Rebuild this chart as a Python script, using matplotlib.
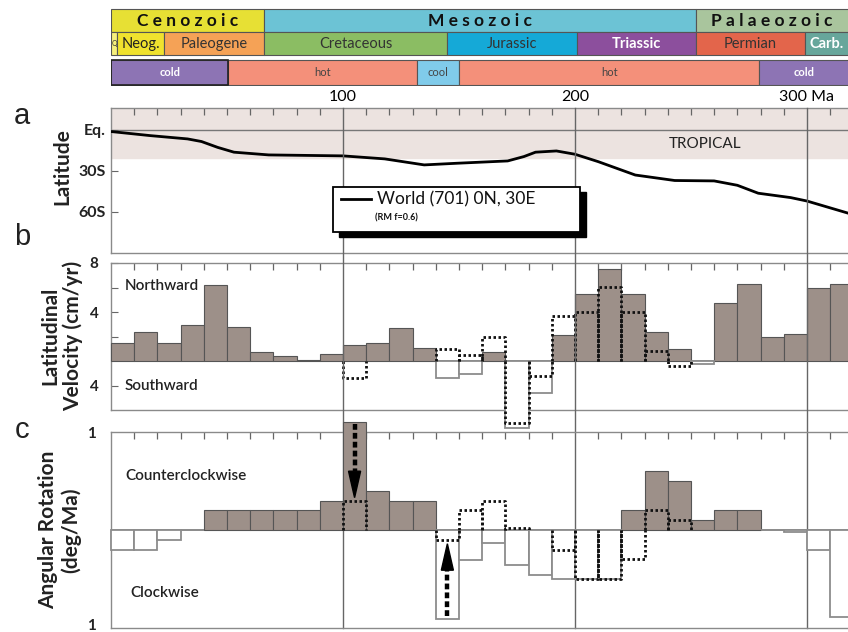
import numpy as np
import matplotlib
matplotlib.use("Agg")
import matplotlib.pyplot as plt
from matplotlib.patches import Rectangle, Polygon
from matplotlib.lines import Line2D
from matplotlib.transforms import blended_transform_factory

plt.rcParams['font.family'] = ['Lato', 'DejaVu Sans']

# ---------------- geological time scale (Ma) ----------------
era_names = ['C e n o z o i c', 'M e s o z o i c', 'P a l a e o z o i c']
era_start = [0, 66, 252]
era_end = [66, 252, 359]
era_colors = ['#e7e034', '#6cc3d5', '#a9c59d']

period_names = ['Q', 'Neog.', 'Paleogene', 'Cretaceous', 'Jurassic', 'Triassic', 'Permian', 'Carb.']
period_start = [0, 2.6, 23, 66, 145, 201, 252, 299]
period_end = [2.6, 23, 66, 145, 201, 252, 299, 359]
period_colors = ['#f6f07c', '#f0e22e', '#f5a256', '#8bbd63', '#15a9d7', '#8c4f9d', '#e3654b', '#67a69b']
period_text = ['#333333', '#222222', '#333333', '#333333', '#333333', 'white', '#333333', 'white']
period_bold = [False, False, False, False, False, True, False, True]

climate_names = ['cold', 'hot', 'cool', 'hot', 'cold']
climate_start = [0, 50.6, 132, 150, 279.5]
climate_end = [50.6, 132, 150, 279.5, 359]
climate_colors = ['#8d74b4', '#f4907a', '#80cbea', '#f4907a', '#8d74b4']
climate_text = ['white', '#444444', '#444444', '#444444', 'white']

# ---------------- palaeolatitude path ----------------
lat_age = [0, 17, 33, 39, 46, 53, 68, 100, 118, 135, 149, 171, 178, 183, 192,
           200, 210, 226, 243, 260, 270, 279, 293, 300, 318]
lat_deg = [-1.2, -4.2, -6.6, -8.5, -12.8, -16.3, -18.3, -19.0, -21.2, -25.6,
           -24.4, -22.7, -19.5, -16.3, -15.4, -17.8, -23.2, -33.0, -37.0,
           -37.3, -40.5, -46.3, -49.5, -52.0, -61.0]

# ---------------- 10 Myr bins ----------------
bin_start = np.arange(0, 320, 10)

# latitudinal velocity (cm/yr), positive = northward
vel_main = np.array([1.5, 2.4, 1.5, 2.9, 6.2, 2.8, 0.76, 0.43, 0.1, 0.57,
                     1.29, 1.5, 2.68, 1.07, -1.42, -1.04, 0.77, -5.5, -2.6, 2.13,
                     5.46, 7.49, 5.46, 2.38, 0.96, -0.27, 4.7, 6.28, 1.97, 2.19,
                     6.0, 6.28])
vel_alt_start = [100, 140, 150, 160, 170, 180, 190, 200, 210, 220, 230, 240]
vel_alt = [-1.42, 1.0, 0.46, 1.97, -5.05, -1.26, 3.69, 4.0, 6.07, 3.96, 0.82, -0.44]

# angular rotation (deg/Ma), positive = counterclockwise
rot_main = np.array([-0.2, -0.2, -0.1, 0.0, 0.2, 0.2, 0.2, 0.2, 0.2, 0.3,
                     1.1, 0.4, 0.3, 0.3, -0.91, -0.31, -0.13, -0.36, -0.46, -0.5,
                     -0.5, -0.5, 0.2, 0.6, 0.5, 0.1, 0.2, 0.2, 0.0, -0.02,
                     -0.2, -0.89])
rot_alt_start = [100, 140, 150, 160, 170, 190, 200, 210, 220, 230, 240]
rot_alt = [0.3, -0.1, 0.2, 0.3, 0.02, -0.2, -0.5, -0.5, -0.3, 0.2, 0.1]

# ---------------- figure layout ----------------
W_PX, H_PX = 848, 632
fig = plt.figure(figsize=(W_PX / 100, H_PX / 100), dpi=100)
LEFT = 111 / W_PX
XMAX = 317.7
FRAME = '#8a8a8a'
BAR_FILL = '#9d9089'


def rect_from_px(top, bottom):
    return [LEFT, 1 - bottom / H_PX, 1 - LEFT, (bottom - top) / H_PX]


ax_t = fig.add_axes(rect_from_px(8, 86))
ax_a = fig.add_axes(rect_from_px(108, 253))
ax_b = fig.add_axes(rect_from_px(263, 410))
ax_c = fig.add_axes(rect_from_px(432, 628))

# ---------------- time scale strip ----------------
ax_t.set_xlim(0, XMAX)
ax_t.set_ylim(86, 8)
ax_t.axis('off')


def strip_row(starts, ends, names, colors, y0, y1, tcolors, size, bold, edge='#555555'):
    for i, (s, e, n, c) in enumerate(zip(starts, ends, names, colors)):
        ax_t.add_patch(Rectangle((s, y0), e - s, y1 - y0, facecolor=c,
                                 edgecolor=edge, lw=0.8, clip_on=True))
        xc = (s + min(e, XMAX)) / 2
        w = 'bold' if bold[i] else 'normal'
        ax_t.text(xc, (y0 + y1) / 2 + 0.5, n, ha='center', va='center',
                  color=tcolors[i], fontsize=size[i], fontweight=w, clip_on=True)


strip_row(era_start, era_end, era_names, era_colors, 8.5, 31.5,
          ['#111111'] * 3, [12.5] * 3, [True] * 3)
strip_row(period_start, period_end, period_names, period_colors, 31.5, 55,
          period_text, [5] + [10.5] * 7, period_bold)
strip_row(climate_start, climate_end, climate_names, climate_colors, 59.5, 85,
          climate_text, [8] * 5, [True, False, False, False, True])
ax_t.add_patch(Rectangle((climate_start[0], 59.5), climate_end[0] - climate_start[0],
                         25.5, facecolor='none', edgecolor='#222222', lw=1.2))

# ---------------- common axis styling ----------------
for ax in (ax_a, ax_b, ax_c):
    ax.set_xlim(0, XMAX)
    for side in ('left', 'top', 'bottom'):
        ax.spines[side].set_color(FRAME)
        ax.spines[side].set_linewidth(1.0)
    ax.spines['right'].set_visible(False)
    ax.xaxis.tick_top()
    ax.set_xticks([100, 200, 300])
    ax.set_xticks(np.arange(10, 320, 10), minor=True)
    ax.tick_params(axis='x', which='minor', direction='in', length=5,
                   color='#666666', width=0.9)
    ax.tick_params(axis='x', which='major', length=0, labeltop=False)
    ax.tick_params(axis='y', direction='in', length=5, color='#666666',
                   labelsize=11, labelcolor='#222222')

# ---------------- panel a: palaeolatitude ----------------
ax_a.set_ylim(-90, 16)
ax_a.axhspan(-20.5, 16, color='#ece3e0', zorder=0)
ax_a.axhline(0, color='#777777', lw=1.0, zorder=1)
ax_a.plot(lat_age, lat_deg, color='black', lw=2.0, zorder=5,
          solid_joinstyle='round')
ax_a.set_yticks([0, -30, -60])
ax_a.set_yticklabels(['Eq.', '30S', '60S'], fontweight='bold', fontsize=11.5)
ax_a.tick_params(axis='y', pad=4)
ax_a.tick_params(axis='x', which='major', labeltop=True, labelsize=11.5, pad=3)
ax_a.set_xticklabels(['100', '200', '300 Ma'])
ax_a.text(256, -10, 'TROPICAL', ha='center', va='center', fontsize=11,
          color='#222222')

# legend box with solid shadow
bx0, by0, bw, bh = 333 / W_PX, 1 - 232 / H_PX, 247 / W_PX, 45 / H_PX
fig.add_artist(Rectangle((bx0 + 6 / W_PX, by0 - 5 / H_PX), bw, bh,
                         transform=fig.transFigure, facecolor='black',
                         edgecolor='black', zorder=8))
fig.add_artist(Rectangle((bx0, by0), bw, bh, transform=fig.transFigure,
                         facecolor='white', edgecolor='black', lw=1.3, zorder=9))
fig.add_artist(Line2D([341 / W_PX, 371 / W_PX], [1 - 199 / H_PX] * 2,
                      transform=fig.transFigure, color='black', lw=2, zorder=10))
fig.text(377 / W_PX, 1 - 199 / H_PX, 'World (701) 0N, 30E', fontsize=12.5,
         va='center', ha='left', zorder=10, color='#111111')
fig.text(375 / W_PX, 1 - 218 / H_PX, '(RM f=0.6)', fontsize=6.5,
         fontweight='bold', va='center', ha='left', zorder=10, color='#111111')


# ---------------- bar helper ----------------
def draw_bars(ax, starts, main, alt_starts, alt):
    main = np.asarray(main)
    pos = main > 0
    neg = ~pos
    ax.bar(starts[pos], main[pos], width=10, align='edge', color=BAR_FILL,
           edgecolor='#555555', lw=0.8, zorder=3, clip_on=False)
    ax.bar(starts[neg], main[neg], width=10, align='edge', color='white',
           edgecolor='#8c8c8c', lw=1.3, zorder=3, clip_on=False)
    # alternative model: open dotted outlines rising from the zero line
    for s, v in zip(alt_starts, alt):
        ax.plot([s, s, s + 10, s + 10], [0, v, v, 0], color='#111111',
                lw=2.0, ls=(0, (0.9, 0.9)), zorder=4, clip_on=False)


# ---------------- panel b: latitudinal velocity ----------------
ax_b.set_ylim(-4, 8)
ax_b.axhline(0, color='#8c8c8c', lw=1.2, zorder=2)
draw_bars(ax_b, bin_start, vel_main, vel_alt_start, vel_alt)
ax_b.set_yticks([8, 6, 4, 2, -2])
ax_b.set_yticklabels(['8', '', '4', '', '4'], fontweight='bold', fontsize=11)
ax_b.tick_params(axis='y', pad=9)
ax_b.text(6, 6.1, 'Northward', ha='left', va='center', fontsize=11,
          fontweight='semibold', color='#222222')
ax_b.text(6, -2.05, 'Southward', ha='left', va='center', fontsize=11,
          fontweight='semibold', color='#222222')

# ---------------- panel c: angular rotation ----------------
ax_c.set_ylim(-1, 1)
ax_c.axhline(0, color='#8c8c8c', lw=1.2, zorder=2)
draw_bars(ax_c, bin_start, rot_main, rot_alt_start, rot_alt)
ax_c.set_yticks([1, -0.96])
ax_c.set_yticklabels(['1', '1'], fontweight='bold', fontsize=11)
ax_c.tick_params(axis='y', length=0, pad=11)
ax_c.text(6, 0.55, 'Counterclockwise', ha='left', va='center', fontsize=11,
          fontweight='semibold', color='#222222')
ax_c.text(8.5, -0.64, 'Clockwise', ha='left', va='center', fontsize=11,
          fontweight='semibold', color='#222222')


def dashed_arrow(ax, x, y_from, y_to, head_len=0.27, half_w=2.6):
    d = np.sign(y_to - y_from)
    y_base = y_to - d * head_len
    ax.plot([x, x], [y_from, y_base], color='black', lw=3.2,
            ls=(0, (1.3, 0.7)), zorder=6, clip_on=False, dash_capstyle='butt')
    ax.add_patch(Polygon([(x - half_w, y_base), (x + half_w, y_base), (x, y_to)],
                         closed=True, facecolor='black', edgecolor='black',
                         zorder=6, clip_on=False))


i100 = list(bin_start).index(100)
i140 = list(bin_start).index(140)
dashed_arrow(ax_c, 105, rot_main[i100] - 0.02, rot_alt[0] + 0.03)
dashed_arrow(ax_c, 145, rot_main[i140] + 0.03, rot_alt[1] - 0.04)

# ---------------- vertical 100 Myr guide lines ----------------
trans = blended_transform_factory(ax_c.transData, fig.transFigure)
for v in (100, 200, 300):
    ax_c.plot([v, v], [1 - 628 / H_PX, 1 - 108 / H_PX], transform=trans,
              color='#666666', lw=1.0, zorder=1, clip_on=False)

# ---------------- axis titles and panel letters ----------------
ylab = dict(rotation=90, ha='center', va='center', fontsize=15,
            fontweight='bold', color='#222222', linespacing=1.15)
fig.text(62 / W_PX, 1 - 167 / H_PX, 'Latitude', **ylab)
fig.text(62 / W_PX, 1 - 336 / H_PX, 'Latitudinal\nVelocity (cm/yr)', **ylab)
fig.text(60 / W_PX, 1 - 530 / H_PX, 'Angular Rotation\n(deg/Ma)', **ylab)

letter = dict(ha='center', va='center', fontsize=21, family='Liberation Sans',
              color='#222222')
fig.text(22 / W_PX, 1 - 116 / H_PX, 'a', **letter)
fig.text(22 / W_PX, 1 - 237 / H_PX, 'b', **letter)
fig.text(22 / W_PX, 1 - 430 / H_PX, 'c', **letter)

fig.savefig('out.png', dpi=100)
